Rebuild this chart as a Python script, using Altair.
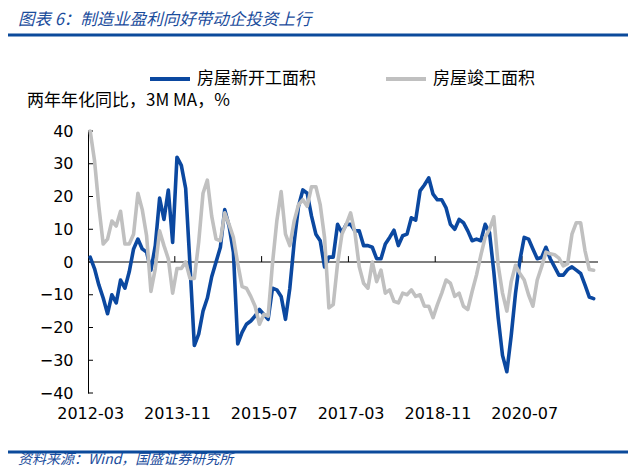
import altair as alt
import pandas as pd

# ---------------- data ----------------
months = pd.date_range("2012-03-01", periods=117, freq="MS").strftime("%Y-%m").tolist()
series_names = ["房屋新开工面积", "房屋竣工面积"]

new_start = [1.5, -2, -7, -11, -15.8, -10, -12.5, -5.5, -8, -3,
             4, 7, 4, 3, -2.5, 5, 19.5, 13, 22, 6,
             32, 29.5, 22.5, -1, -25.5, -22, -15, -11, -4.5, 0,
             4.5, 16, 11, 3, -25, -21.5, -19, -18, -16.5, -14.5,
             -16, -17.5, -8, -8.5, -10.5, -17.5, -8, 6, 17, 22,
             21, 14, 8.5, 6.5, -1.5, 1.5, 1.5, 11.5, 9, 11.5,
             11.5, 9.5, 9.5, 5, 5, 4.5, 1, 1, 5.5, 7.5,
             9.7, 5, 8, 8.5, 13.5, 12.8, 21.7, 23.5, 25.7, 20.7,
             19, 19, 16.5, 11.5, 10, 13, 12, 9.5, 6.5, 7,
             6.5, 11.5, 9, -3, -17, -28.5, -33.5, -22.5, -9.5, 0.5,
             7.5, 7, 4, 1, 1.4, 4.5, 1, -1.5, -4, -4,
             -2.3, -1.5, -2.5, -3.5, -7, -10.7, -11.2]

completed = [40, 31, 17, 5.5, 7, 12.5, 11, 15.5, 5.5, 5.5,
             8.5, 21, 16, 8, -9, -2, 9.5, 5, 1, -9.5,
             -2, -2, 0, -5, -5, 6, 21, 25, 14, 7,
             6.5, 15, 11.5, 7.5, -0.5, -7.5, -8, -10.5, -13.5, -19,
             -16, -16.5, -0.5, 12.5, 21.5, 8.5, 5, 12.5, 17.5, 19,
             17, 23, 23, 17.5, 7.5, -14, -13, -0.5, 8.5, 11.5,
             15, 9, -1.5, -6.5, -8, 0, -6, -2.5, -9.5, -8.5,
             -12, -12.5, -9.5, -10, -8.5, -10.5, -10, -13.5, -13.5, -17,
             -13, -9.5, -5.5, -6.5, -10.5, -9.5, -13.5, -14.5, -9, -4,
             2, 7.5, 10, 13.8, -1, -9.5, -15, -6, -1, -3.5,
             -5.5, -10, -13.5, -5.5, -1.5, 3, 2.5, 2.2, 1.2, -1.2,
             -0.5, 8.5, 12, 12, 3.5, -2.3, -2.5]

y_ticks = [-40, -30, -20, -10, 0, 10, 20, 30, 40]
x_label_idx = [0, 20, 40, 60, 80, 100]
x_tick_bounds = [19.5, 39.5, 59.5, 79.5, 99.5]

title_text = "图表 6：制造业盈利向好带动企投资上行"
y_title_text = "两年年化同比，3M MA，%"
source_text = "资料来源：Wind，国盛证券研究所"

# ---------------- styles ----------------
BLUE = "#0B48A0"
GRAY = "#C0C0C0"
DARK_BLUE = "#0B4A9B"
TXT_BLUE = "#1A4C9C"
CJK = "Noto Sans CJK SC"
NUM = "DejaVu Sans"

n = len(months)
df = pd.DataFrame({
    "m": list(range(n)) * 2,
    "month": months * 2,
    "v": new_start + completed,
    "series": [series_names[0]] * n + [series_names[1]] * n,
})

label_arr = "[" + ",".join("'%s'" % months[i] for i in x_label_idx) + "]"

x_scale = alt.Scale(domain=[-0.5, 117], nice=False, zero=False)
y_scale = alt.Scale(domain=[-40, 40], nice=False, zero=False)
x_axis = alt.Axis(values=x_label_idx, labelExpr=label_arr + "[datum.value/20]",
                  domain=False, ticks=False, grid=False, title=None,
                  labelFlush=False, labelOverlap=False,
                  labelFontSize=16, labelFont=NUM, labelColor="#000",
                  labelPadding=12)
y_axis = alt.Axis(values=y_ticks, tickSize=0, grid=False, title=None,
                  domainColor="#000", domainWidth=1,
                  labelOverlap=False, labelFlush=False,
                  labelFontSize=16, labelFont=NUM, labelColor="#000",
                  labelPadding=15)

x_enc = alt.X("m:Q", scale=x_scale, axis=x_axis)
y_enc = alt.Y("v:Q", scale=y_scale, axis=y_axis)
color_enc = alt.Color("series:N",
                      scale=alt.Scale(domain=series_names, range=[BLUE, GRAY]),
                      legend=alt.Legend(orient="none", legendX=60, legendY=-74,
                                        direction="horizontal", title=None,
                                        symbolType="stroke", symbolSize=1600,
                                        symbolStrokeWidth=4, labelFont=CJK,
                                        labelFontSize=17, labelColor="#000",
                                        labelOffset=5, columnPadding=62))

base = alt.Chart(df)

zero_line = alt.Chart(pd.DataFrame({"z": [0]})).mark_rule(color="#000", strokeWidth=1.2).encode(
    y=alt.Y("z:Q", scale=y_scale, axis=y_axis))

y_tick_marks = alt.Chart(pd.DataFrame({"yt": y_ticks})).mark_rule(color="#000", strokeWidth=1).encode(
    y=alt.Y("yt:Q", scale=y_scale, axis=y_axis), x=alt.value(0), x2=alt.value(5))

x_tick_marks = alt.Chart(pd.DataFrame({"xt": x_tick_bounds, "y0": [0] * 5, "y1": [1.8] * 5})).mark_rule(
    color="#000", strokeWidth=1).encode(x=alt.X("xt:Q", scale=x_scale, axis=x_axis),
                                        y=alt.Y("y0:Q", scale=y_scale, axis=y_axis), y2="y1:Q")

line_blue = base.transform_filter(alt.datum.series == series_names[0]).mark_line(
    strokeWidth=3.6, strokeJoin="round", strokeCap="round").encode(x=x_enc, y=y_enc, color=color_enc)
line_gray = base.transform_filter(alt.datum.series == series_names[1]).mark_line(
    strokeWidth=3.6, strokeJoin="round", strokeCap="round").encode(x=x_enc, y=y_enc, color=color_enc)

def text_layer(txt, x, y, size, color, italic=False):
    kw = dict(align="left", baseline="middle", font=CJK, fontSize=size, color=color)
    if italic:
        kw["fontStyle"] = "italic"
    return alt.Chart(pd.DataFrame({"t": [txt]})).mark_text(**kw).encode(
        text="t:N", x=alt.value(x), y=alt.value(y))

def hline(y):
    return alt.Chart(pd.DataFrame({"k": [0]})).mark_rule(color=DARK_BLUE, strokeWidth=3).encode(
        x=alt.value(-83), x2=alt.value(540), y=alt.value(y))

title = text_layer(title_text, -70, -111, 16.5, TXT_BLUE, italic=True)
ytitle = text_layer(y_title_text, -61, -30, 17, "#000")
source = text_layer(source_text, -70, 329, 14, TXT_BLUE, italic=True)

chart = alt.layer(
    zero_line, y_tick_marks, x_tick_marks, line_blue, line_gray,
    title, ytitle, source, hline(-96), hline(321)
).properties(
    width=510, height=262,
    padding={"left": 80, "top": 123, "right": 30, "bottom": 75},
    autosize="none",
    background="#ffffff",
).configure_view(stroke=None)

chart.save("out.html", embed_options={"renderer": "svg", "actions": False})
